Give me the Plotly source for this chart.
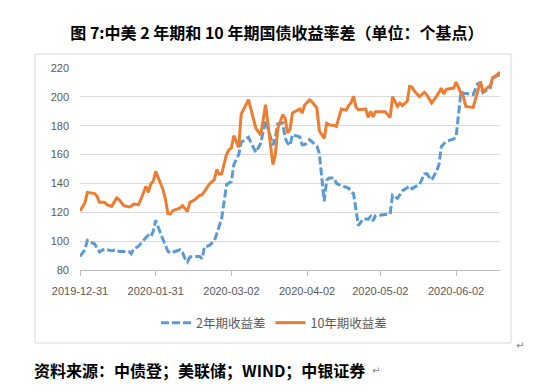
import plotly.graph_objects as go

dates = [
    "2019-12-31", "2020-01-02", "2020-01-03", "2020-01-06", "2020-01-07", "2020-01-08",
    "2020-01-10", "2020-01-11", "2020-01-13", "2020-01-15", "2020-01-16", "2020-01-18",
    "2020-01-20", "2020-01-21", "2020-01-22", "2020-01-24", "2020-01-25", "2020-01-27",
    "2020-01-28", "2020-01-29", "2020-01-30", "2020-01-31", "2020-02-03", "2020-02-04",
    "2020-02-05", "2020-02-06", "2020-02-07", "2020-02-09", "2020-02-10", "2020-02-11",
    "2020-02-12", "2020-02-13", "2020-02-14", "2020-02-16", "2020-02-18", "2020-02-19",
    "2020-02-20", "2020-02-21", "2020-02-22", "2020-02-24", "2020-02-25", "2020-02-26",
    "2020-02-27", "2020-02-29", "2020-03-01", "2020-03-02", "2020-03-03", "2020-03-05",
    "2020-03-06", "2020-03-09", "2020-03-12", "2020-03-14", "2020-03-16", "2020-03-19",
    "2020-03-20", "2020-03-21", "2020-03-22", "2020-03-23", "2020-03-24", "2020-03-25",
    "2020-03-26", "2020-03-27", "2020-03-30", "2020-03-31", "2020-04-01", "2020-04-02",
    "2020-04-03", "2020-04-04", "2020-04-06", "2020-04-07", "2020-04-09", "2020-04-10",
    "2020-04-11", "2020-04-13", "2020-04-14", "2020-04-16", "2020-04-18", "2020-04-19",
    "2020-04-20", "2020-04-21", "2020-04-22", "2020-04-23", "2020-04-25", "2020-04-26",
    "2020-04-27", "2020-04-28", "2020-04-29", "2020-04-30", "2020-05-04", "2020-05-06",
    "2020-05-07", "2020-05-09", "2020-05-10", "2020-05-11", "2020-05-13", "2020-05-14",
    "2020-05-15", "2020-05-16", "2020-05-18", "2020-05-20", "2020-05-21", "2020-05-23",
    "2020-05-25", "2020-05-26", "2020-05-27", "2020-05-28", "2020-05-29", "2020-06-01",
    "2020-06-02", "2020-06-04", "2020-06-05", "2020-06-06", "2020-06-09", "2020-06-11",
    "2020-06-12", "2020-06-13", "2020-06-16", "2020-06-17", "2020-06-18", "2020-06-20",
]

spread_2y = [
    89.4, 94, 100.5, 98, 95.3, 92.5,
    94.6, 94, 93.4, 94, 92.9, 93,
    92.9, 91.3, 94.6, 96.5, 98.7, 102.5,
    104, 103, 106.8, 114.4, 101, 97,
    93, 91.8, 92.3, 93, 94, 92,
    88, 85.6, 89, 89.4, 89.4, 87.8,
    96.4, 96.4, 97, 100, 105, 110.2,
    115.4, 139.1, 140, 141.4, 153, 160,
    168.5, 172, 161.5, 167.8, 183.7, 166.5,
    172, 181.3, 181.5, 181.9, 171.5, 168,
    166.2, 173.8, 172.2, 166.8, 167, 168,
    170.3, 169, 165.8, 161, 127.6, 142,
    143.8, 143.8, 140, 138.4, 137.5, 136.8,
    134, 133, 122, 110.8, 115.4, 115.4,
    115.2, 117.1, 114, 117.6, 118.5, 118.8,
    131.8, 129.7, 132, 134.8, 137, 138.2,
    136.3, 137.5, 139.1, 146.5, 146.8, 142.3,
    148.4, 153, 165.7, 167.5, 169.1, 170.8,
    172, 203.4, 202.5, 202.3, 201.5, 209.8,
    206, 202.9, 206.1, 212.4, 214, 215.4,
]

spread_10y = [
    121, 126.4, 133.8, 133, 131, 127,
    127, 125.3, 124.1, 129.9, 128.7, 124.6,
    123.7, 124.2, 125.7, 125.3, 129.2, 138,
    133.8, 139.8, 141.4, 148.4, 135.7, 129,
    119, 118.8, 121.1, 122.3, 123, 124.6,
    122.5, 120.6, 126.9, 128.7, 131.7, 132.2,
    134.5, 137, 139.6, 142.6, 149.5, 146.5,
    146.7, 160, 163.4, 164.6, 173.1, 165,
    188, 198, 178.4, 173.5, 194.6, 153,
    160, 178, 183, 187.6, 185.3, 175,
    177.2, 188.8, 191.6, 188.8, 194.3, 196,
    198, 196.5, 192.3, 176.5, 171.2, 181.6,
    180.7, 180.2, 179.5, 191.6, 190.8, 193.9,
    196, 200.3, 193, 191.1, 191.1, 191.5,
    185.8, 190, 186.2, 189.7, 189.6, 185.6,
    200.2, 193.4, 195.7, 193.9, 196.9, 207.3,
    206.8, 203.8, 200.2, 203.1, 201.5, 195.7,
    200.3, 203, 206, 202, 205.2, 206.1,
    210.2, 202.7, 200.3, 193.4, 192.7, 204.5,
    210.7, 203.8, 207.8, 213.4, 214.2, 217.1,
]

tick_dates = ["2019-12-31", "2020-01-31", "2020-03-02", "2020-04-02", "2020-05-02", "2020-06-02"]
tick_labels = tick_dates
y_ticks = [80, 100, 120, 140, 160, 180, 200, 220]

series_names = ["2年期收益差", "10年期收益差"]
title_text = "图 7:中美 2 年期和 10 年期国债收益率差（单位：个基点）"
source_text = "资料来源：中债登；美联储；WIND；中银证券"

fig = go.Figure()
fig.add_trace(go.Scatter(
    x=dates, y=spread_2y, mode="lines", name=series_names[0],
    line=dict(color="#5B9BD5", width=3, dash="8px,3px"),
))
fig.add_trace(go.Scatter(
    x=dates, y=spread_10y, mode="lines", name=series_names[1],
    line=dict(color="#ED7D31", width=3),
))

W, H = 545, 392
L, R, T, B = 80, 45, 68, 122
pw, ph = W - L - R, H - T - B

def px2paper_x(px):
    return (px - L) / pw

def px2paper_y(py):
    return (H - B - py) / ph

cn_font = "Noto Sans CJK SC"

fig.update_layout(
    width=W, height=H,
    margin=dict(l=L, r=R, t=T, b=B),
    paper_bgcolor="white", plot_bgcolor="white",
    showlegend=True,
    legend=dict(
        orientation="h",
        x=px2paper_x(274), xanchor="center",
        y=px2paper_y(323), yanchor="middle",
        font=dict(family=cn_font, size=12.5, color="#595959"),
        itemwidth=30,
    ),
    title=dict(
        text="<b>" + title_text + "</b>",
        x=0.508, xanchor="center",
        y=1 - 33 / H, yanchor="middle",
        font=dict(family=cn_font, size=16, color="black"),
    ),
    xaxis=dict(
        type="date",
        range=["2019-12-31", "2020-06-20"],
        tickvals=tick_dates, ticktext=tick_labels,
        showgrid=False,
        showline=True, linecolor="#bfbfbf", linewidth=1,
        ticks="outside", ticklen=5, tickcolor="#bfbfbf",
        tickfont=dict(family="Liberation Sans", size=11, color="#595959"),
        ticklabelstandoff=6,
        zeroline=False,
    ),
    yaxis=dict(
        range=[80, 220],
        tickvals=y_ticks,
        showgrid=True, gridcolor="#d9d9d9", gridwidth=1,
        showline=False, zeroline=False,
        ticks="",
        tickfont=dict(family="Liberation Sans", size=11, color="#595959"),
        ticklabelstandoff=10,
    ),
    shapes=[
        dict(type="rect", xref="paper", yref="paper",
             x0=px2paper_x(35), x1=px2paper_x(511),
             y0=px2paper_y(343), y1=px2paper_y(54),
             line=dict(color="#d9d9d9", width=1), fillcolor="rgba(0,0,0,0)",
             layer="below"),
    ],
    annotations=[
        dict(text="<b>" + source_text + "</b>", xref="paper", yref="paper",
             x=px2paper_x(32), y=px2paper_y(370), xanchor="left", yanchor="middle",
             showarrow=False, font=dict(family=cn_font, size=16, color="black")),
        dict(text="↵", xref="paper", yref="paper",
             x=px2paper_x(370), y=px2paper_y(370), xanchor="left", yanchor="middle",
             showarrow=False, font=dict(family="DejaVu Sans", size=10, color="#808080")),
        dict(text="↵", xref="paper", yref="paper",
             x=px2paper_x(514), y=px2paper_y(345), xanchor="left", yanchor="middle",
             showarrow=False, font=dict(family="DejaVu Sans", size=10, color="#808080")),
    ],
)

fig.write_html("out.html", config={"displayModeBar": False},
               post_script="document.body.style.margin='0';")
